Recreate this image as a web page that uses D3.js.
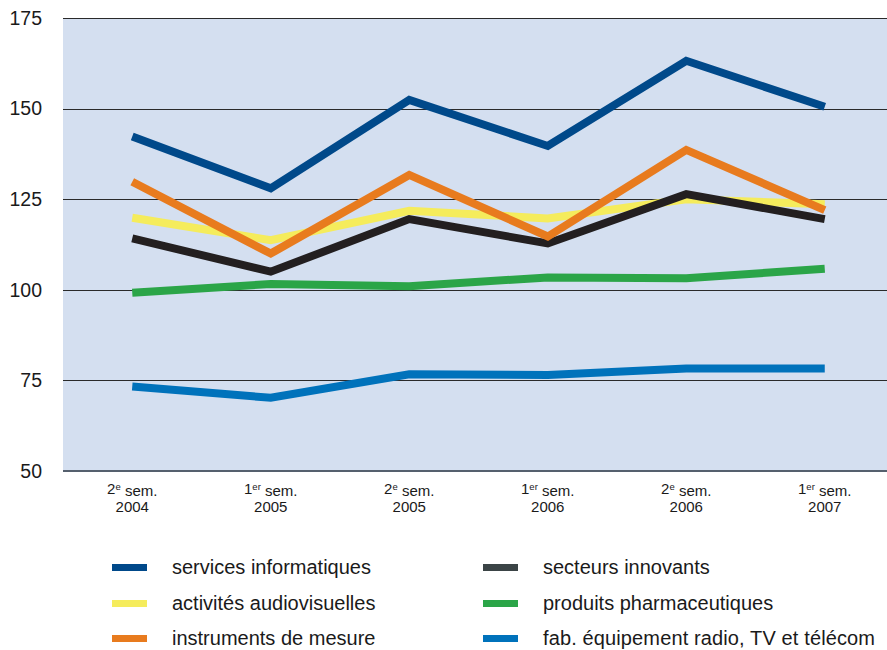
<!DOCTYPE html>
<html>
<head>
<meta charset="utf-8">
<script src="https://cdn.jsdelivr.net/npm/d3@7"></script>
<style>
	body { margin: 0; background: #fff; }
	svg { font-family: "Liberation Sans", Arial, sans-serif; }
	.ytick { font-size: 19.5px; fill: #1a1a1a; }
	.xtick { font-size: 15px; fill: #1a1a1a; }
	.legend-item { font-size: 20px; fill: #1a1a1a; }
</style>
</head>
<body>
<svg id="chart"></svg>
<script>
// periods: [number, superscript suffix, year]
const periods = [
	["2", "e", "2004"],
	["1", "er", "2005"],
	["2", "e", "2005"],
	["1", "er", "2006"],
	["2", "e", "2006"],
	["1", "er", "2007"]
];
const yTicks = [50, 75, 100, 125, 150, 175];

const servicesInfo = [142.3, 128, 152.4, 139.7, 163.2, 150.5];
const audiovisuel = [119.9, 113.7, 121.8, 119.7, 125, 123.6];
const instruments = [129.8, 110, 131.7, 114.7, 138.6, 122];
const innovants = [114.2, 105, 119.5, 112.8, 126.4, 119.5];
const pharma = [99.2, 101.6, 101, 103.4, 103.2, 105.8];
const radioTv = [73.3, 70.2, 76.7, 76.5, 78.3, 78.3];

const seriesNames = [
	"services informatiques", "activités audiovisuelles", "instruments de mesure",
	"secteurs innovants", "produits pharmaceutiques", "fab. équipement radio, TV et télécom"
];
const seriesColors = ["#00498a", "#f5ec5c", "#e87b1e", "#231f20", "#2ba548", "#0072bb"];
const legendColors = ["#00498a", "#f5ec5c", "#e87b1e", "#3b4446", "#2ba548", "#0072bb"];
const seriesValues = [servicesInfo, audiovisuel, instruments, innovants, pharma, radioTv];
// draw order so that overlaps look like the original
const drawOrder = [4, 5, 1, 3, 2, 0];

const viewWidth = 887, viewHeight = 650;
const margin = { left: 63, right: -7, top: 18, bottom: 179 };
const width = viewWidth - margin.left - margin.right;
const height = viewHeight - margin.top - margin.bottom;

const svg = d3.select("#chart")
	.attr("width", viewWidth)
	.attr("height", viewHeight);

const g = svg.append("g")
	.attr("transform", "translate(" + margin.left + "," + margin.top + ")");

const x = d3.scalePoint()
	.domain(d3.range(periods.length))
	.range([0, width])
	.padding(0.5);
const y = d3.scaleLinear()
	.domain([50, 175])
	.range([height, 0]);

g.append("rect")
	.attr("width", viewWidth - margin.left)
	.attr("height", height)
	.attr("fill", "#d4dff0");

// grid lines
g.selectAll(".grid")
	.data(yTicks.filter(d => d > 50))
	.enter().append("line")
	.attr("x1", 0).attr("x2", viewWidth - margin.left)
	.attr("y1", d => Math.round(y(d)) + 0.5)
	.attr("y2", d => Math.round(y(d)) + 0.5)
	.attr("stroke", "#2a2a2a")
	.attr("stroke-width", 1);

g.append("line")
	.attr("x1", 0).attr("x2", viewWidth - margin.left)
	.attr("y1", height).attr("y2", height)
	.attr("stroke", "#55606e")
	.attr("stroke-width", 2);

// y labels
g.selectAll(".ytick")
	.data(yTicks)
	.enter().append("text")
	.attr("class", "ytick")
	.attr("x", -21)
	.attr("y", d => y(d))
	.attr("dy", "0.35em")
	.attr("text-anchor", "end")
	.text(d => d);

// x labels
const xl = g.selectAll(".xtick")
	.data(periods)
	.enter().append("text")
	.attr("class", "xtick")
	.attr("text-anchor", "middle")
	.attr("transform", (d, i) => "translate(" + x(i) + "," + (height + 23) + ")");
xl.each(function (d) {
	const t = d3.select(this);
	const line1 = t.append("tspan").attr("x", 0).attr("y", 0);
	line1.append("tspan").text(d[0]);
	line1.append("tspan").attr("dy", "-0.45em").attr("font-size", "9.5px").text(d[1]);
	line1.append("tspan").attr("dy", "0.45em").text(" sem.");
	t.append("tspan").attr("x", 0).attr("y", 18).text(d[2]);
});

const line = d3.line()
	.x((d, i) => x(i))
	.y(d => y(d));

drawOrder.forEach(function (k) {
	g.append("path")
		.datum(seriesValues[k])
		.attr("fill", "none")
		.attr("stroke", seriesColors[k])
		.attr("stroke-width", 8)
		.attr("stroke-linejoin", "miter")
		.attr("d", line);
});

// legend
const legendCols = [112, 483];
const legendRows = [567, 603, 638];
seriesNames.forEach(function (name, i) {
	const cx = legendCols[Math.floor(i / 3)];
	const cy = legendRows[i % 3];
	svg.append("rect")
		.attr("x", cx)
		.attr("y", cy - 3)
		.attr("width", 35)
		.attr("height", 7)
		.attr("fill", legendColors[i]);
	svg.append("text")
		.attr("class", "legend-item")
		.attr("x", cx + 60)
		.attr("y", cy)
		.attr("dy", "0.35em")
		.attr("textLength", i === 5 ? 332 : null)
		.text(name);
});
</script>
</body>
</html>
